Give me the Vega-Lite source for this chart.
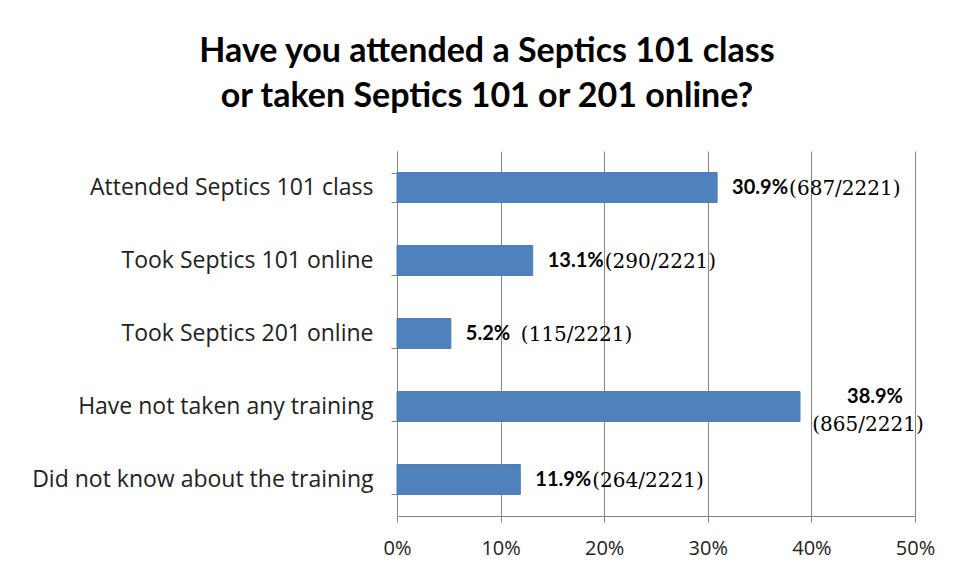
{
  "$schema": "https://vega.github.io/schema/vega-lite/v6.json",
  "width": 518,
  "height": 365,
  "autosize": "none",
  "padding": {"left": 397, "top": 151, "right": 41, "bottom": 63},
  "background": "white",
  "title": {
    "text": ["Have you attended a Septics 101 class", "or taken Septics 101 or 201 online?"],
    "font": "Lato",
    "fontSize": 34,
    "fontWeight": "bold",
    "color": "#000000",
    "lineHeight": 45,
    "anchor": "middle",
    "frame": "group",
    "dx": -169,
    "offset": 26
  },
  "config": {
    "view": {"stroke": null},
    "font": "Lato"
  },
  "data": {
    "values": [
      {"answer": "Attended Septics 101 class", "value": 30.9, "pct": "30.9%", "count": "(687/2221)", "layout": "wide"},
      {"answer": "Took Septics 101 online", "value": 13.1, "pct": "13.1%", "count": "(290/2221)", "layout": "wide"},
      {"answer": "Took Septics 201 online", "value": 5.2, "pct": "5.2%", "count": "(115/2221)", "layout": "narrow"},
      {"answer": "Have not taken any training", "value": 38.9, "pct": "38.9%", "count": "(865/2221)", "layout": "stacked"},
      {"answer": "Did not know about the training", "value": 11.9, "pct": "11.9%", "count": "(264/2221)", "layout": "wide"}
    ]
  },
  "encoding": {
    "y": {
      "field": "answer",
      "type": "nominal",
      "sort": null,
      "title": null,
      "scale": {"paddingInner": 0.59, "paddingOuter": 0.295},
      "axis": {
        "labelFont": "Open Sans",
        "labelFontSize": 23,
        "labelColor": "#222222",
        "labelPadding": 18,
        "tickBand": "extent",
        "tickSize": 6,
        "tickColor": "#868686",
        "domainColor": "#868686",
        "labelLimit": 400
      }
    },
    "x": {
      "field": "value",
      "type": "quantitative",
      "title": null,
      "scale": {"domain": [0, 50], "nice": false},
      "axis": {
        "values": [0, 10, 20, 30, 40, 50],
        "labelExpr": "datum.value + '%'",
        "labelFont": "Open Sans",
        "labelFontSize": 20,
        "labelColor": "#222222",
        "labelPadding": 16,
        "tickSize": 6,
        "tickColor": "#868686",
        "domainColor": "#868686",
        "grid": true,
        "gridColor": "#868686",
        "labelFlush": false
      }
    }
  },
  "layer": [
    {
      "mark": {"type": "bar", "color": "#4F81BD", "stroke": "#4A7EBB", "strokeWidth": 1}
    },
    {
      "transform": [{"filter": "datum.layout != 'stacked'"}],
      "mark": {"type": "text", "align": "left", "baseline": "middle", "dx": 15, "font": "Lato", "fontSize": 20, "fontWeight": "bold", "color": "#000000"},
      "encoding": {"text": {"field": "pct"}}
    },
    {
      "transform": [{"filter": "datum.layout == 'wide'"}],
      "mark": {"type": "text", "align": "left", "baseline": "middle", "dx": 72, "dy": 1, "font": "DejaVu Serif", "fontSize": 20, "color": "#000000"},
      "encoding": {"text": {"field": "count"}}
    },
    {
      "transform": [{"filter": "datum.layout == 'narrow'"}],
      "mark": {"type": "text", "align": "left", "baseline": "middle", "dx": 70, "dy": 1, "font": "DejaVu Serif", "fontSize": 20, "color": "#000000"},
      "encoding": {"text": {"field": "count"}}
    },
    {
      "transform": [{"filter": "datum.layout == 'stacked'"}],
      "mark": {"type": "text", "align": "center", "baseline": "middle", "dx": 75, "dy": -10, "font": "Lato", "fontSize": 20, "fontWeight": "bold", "color": "#000000"},
      "encoding": {"text": {"field": "pct"}}
    },
    {
      "transform": [{"filter": "datum.layout == 'stacked'"}],
      "mark": {"type": "text", "align": "center", "baseline": "middle", "dx": 68, "dy": 18, "font": "DejaVu Serif", "fontSize": 20, "color": "#000000"},
      "encoding": {"text": {"field": "count"}}
    }
  ]
}
